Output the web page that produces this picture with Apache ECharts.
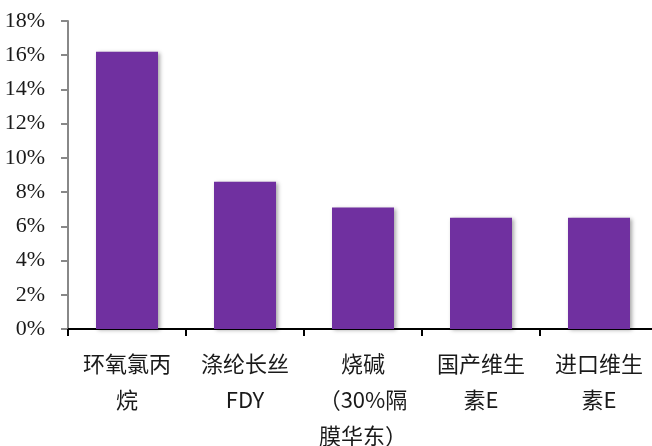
<!DOCTYPE html>
<html><head><meta charset="utf-8">
<script src="https://cdn.jsdelivr.net/npm/echarts@6/dist/echarts.min.js"></script>
<style>html,body{margin:0;padding:0;background:#fff}#c{width:652px;height:446px}</style>
</head><body><div id="c"></div>
<script>
const categories = ["环氧氯丙\n烷", "涤纶长丝\nFDY", "烧碱\n（30%隔\n膜华东）", "国产维生\n素E", "进口维生\n素E"];
const values = [16.2, 8.6, 7.1, 6.5, 6.5];
const yTicks = { min: 0, max: 18, interval: 2 };

const chart = echarts.init(document.getElementById('c'));
chart.setOption({
  animation: false,
  grid: { left: 68, right: -6, top: 21, bottom: 117, containLabel: false, outerBoundsMode: 'none' },
  xAxis: {
    type: 'category',
    data: categories,
    axisLine: { lineStyle: { color: '#000', width: 2 } },
    axisTick: { show: true, length: 7, lineStyle: { color: '#000', width: 2 } },
    axisLabel: {
      interval: 0, margin: 17, fontSize: 22, lineHeight: 36, color: '#1a1a1a',
      fontFamily: '"Noto Sans CJK SC", "Liberation Serif", serif'
    }
  },
  yAxis: {
    type: 'value',
    min: yTicks.min, max: yTicks.max, interval: yTicks.interval,
    axisLine: { show: true, lineStyle: { color: '#888', width: 2 } },
    axisTick: { show: true, length: 7, lineStyle: { color: '#888', width: 2 } },
    splitLine: { show: false },
    axisLabel: {
      margin: 23, fontSize: 22, color: '#1a1a1a',
      fontFamily: '"Liberation Serif", "DejaVu Serif", serif',
      formatter: v => v + '%'
    }
  },
  series: [{
    type: 'bar',
    data: values,
    barWidth: 62,
    itemStyle: {
      color: '#7030A0',
      shadowBlur: 4, shadowColor: 'rgba(0,0,0,0.35)', shadowOffsetX: 2, shadowOffsetY: 1
    }
  }]
});
</script></body></html>
